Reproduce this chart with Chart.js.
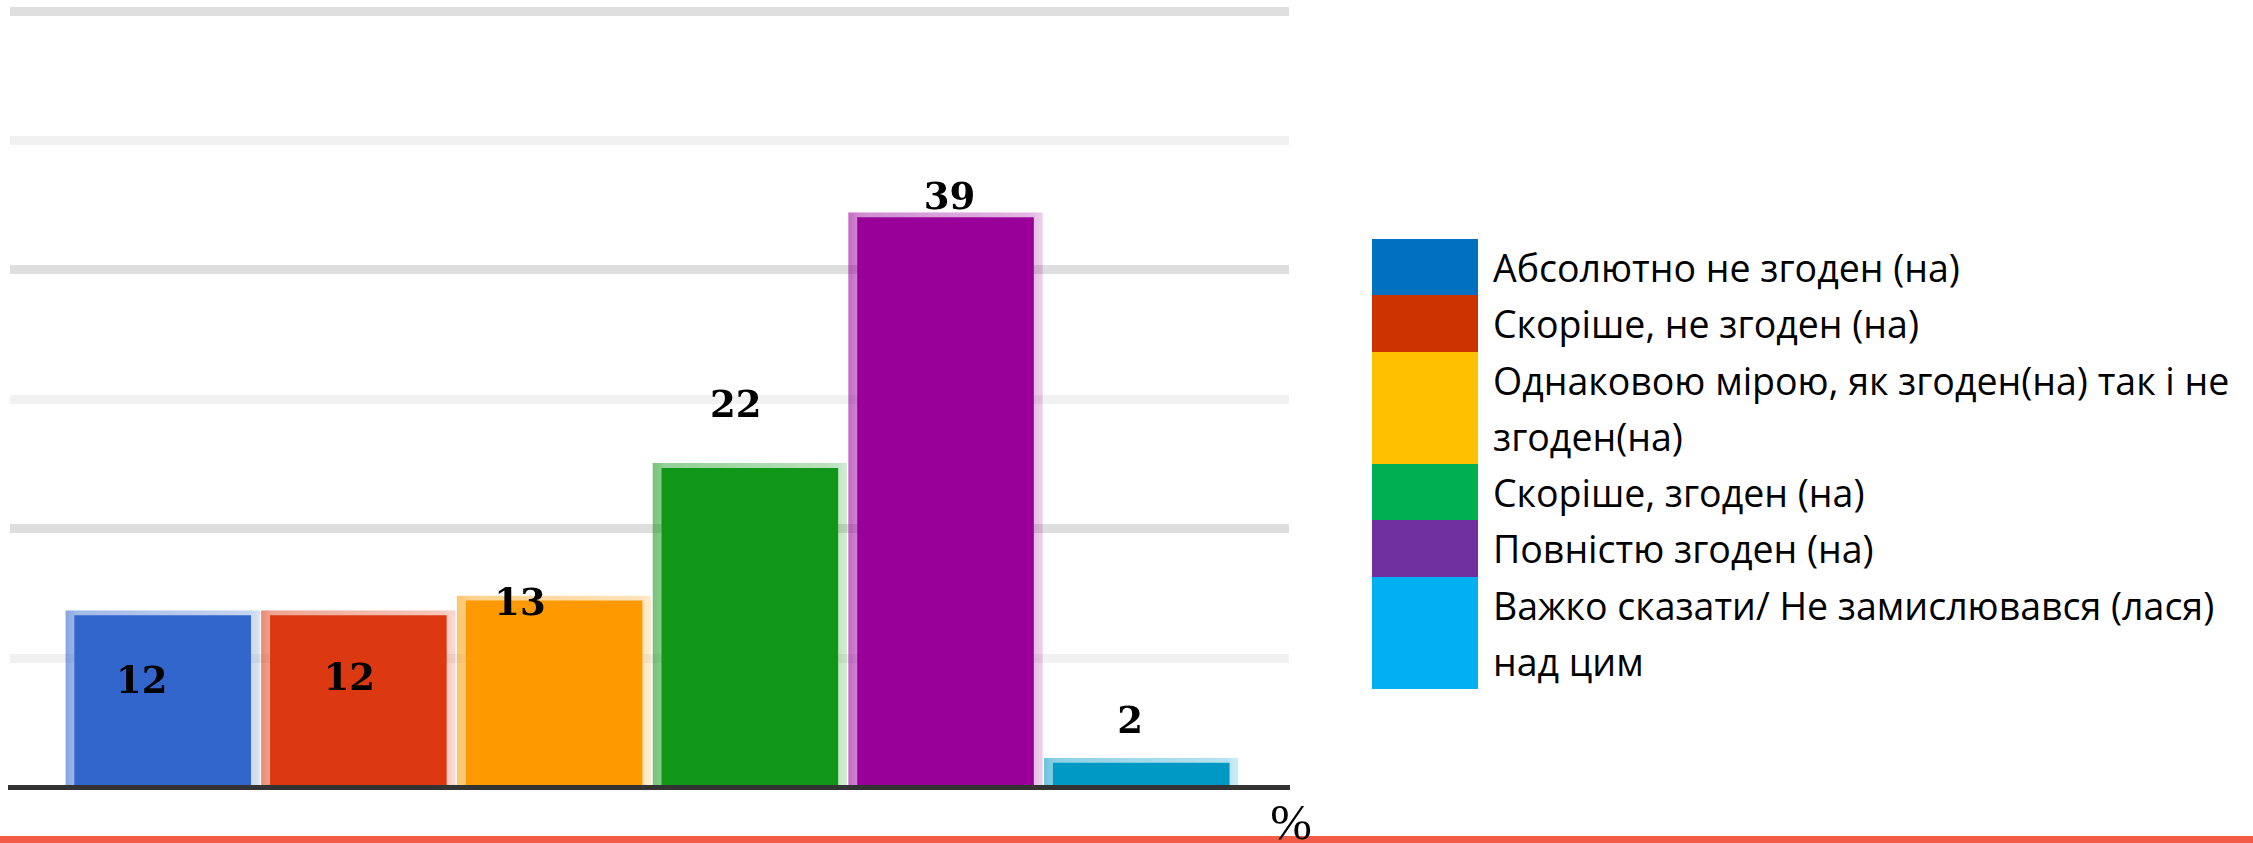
<!DOCTYPE html>
<html>
<head>
<meta charset="utf-8">
<script src="https://cdn.jsdelivr.net/npm/chart.js@4.4.1/dist/chart.umd.min.js"></script>
<style>
  html, body { margin: 0; padding: 0; background: #ffffff; width: 2253px; height: 843px; overflow: hidden; position: relative; }
  #redline { position: absolute; left: 0; top: 836px; width: 2253px; height: 7px; background: #f25b47; }
  #chartBox { position: absolute; left: 0; top: 0; width: 1340px; height: 843px; }
  #legend { position: absolute; left: 1372px; top: 239px; width: 870px; font-family: "Open Sans", sans-serif; font-size: 37.5px; line-height: 56.25px; color: #000; }
  .row { display: flex; align-items: stretch; }
  .sw { width: 106px; flex: none; }
  .tx { margin-left: 15px; width: 765px; position: relative; top: 1px; }
</style>
</head>
<body>
<div id="redline"></div>
<div id="chartBox"><canvas id="c"></canvas></div>
<div id="legend"></div>
<script>
// ---- data ----
const categories = [
  "Абсолютно не згоден (на)",
  "Скоріше, не згоден (на)",
  "Однаковою мірою, як згоден(на) так і не згоден(на)",
  "Скоріше, згоден (на)",
  "Повністю згоден (на)",
  "Важко сказати/ Не замислювався (лася) над цим"
];
const values = [12, 12, 13, 22, 39, 2];
const valueLabels = ["12", "12", "13", "22", "39", "2"];
const unitLabel = "%";

// ---- styles ----
const barColors = ["#3366cc", "#dc3912", "#ff9900", "#109618", "#990099", "#0099c6"];
const legendColors = ["#0070c0", "#cc3300", "#ffc000", "#00b050", "#7030a0", "#00b0f0"];
const labelOffsets = [[-21, 82], [-9, 79], [-34, 19], [-14, -46], [4, -4], [-11, -25]];
const BAR_THICKNESS = 194;
const Y_MAX = 52.68;
const GRID_COUNT = 6;
const X_MIN = -0.78;
const X_MAX = 5.755;

function rgba(hex, a) {
  const n = parseInt(hex.slice(1), 16);
  return `rgba(${(n >> 16) & 255},${(n >> 8) & 255},${n & 255},${a})`;
}

// legend (HTML)
const legendEl = document.getElementById('legend');
categories.forEach((name, i) => {
  const row = document.createElement('div');
  row.className = 'row';
  const sw = document.createElement('div');
  sw.className = 'sw';
  sw.style.background = legendColors[i];
  const tx = document.createElement('div');
  tx.className = 'tx';
  tx.textContent = name;
  row.appendChild(sw);
  row.appendChild(tx);
  legendEl.appendChild(row);
});

// translucent edge: darker on the left, lighter to the right
function edgeColor(context) {
  const i = context.dataIndex;
  const c = barColors[i] || barColors[0];
  const chart = context.chart;
  const xs = chart.scales && chart.scales.x;
  if (!xs || !isFinite(xs.left) || xs.width <= 0) return rgba(c, 0.42);
  const cx = xs.getPixelForValue(i);
  if (!isFinite(cx)) return rgba(c, 0.42);
  const g = chart.ctx.createLinearGradient(cx - BAR_THICKNESS / 2, 0, cx + BAR_THICKNESS / 2, 0);
  g.addColorStop(0, rgba(c, 0.58));
  g.addColorStop(0.06, rgba(c, 0.45));
  g.addColorStop(0.94, rgba(c, 0.28));
  g.addColorStop(1, rgba(c, 0.18));
  return g;
}

const valueLabelPlugin = {
  id: 'valueLabels',
  afterDatasetsDraw(chart) {
    const ctx = chart.ctx;
    const meta = chart.getDatasetMeta(0);
    ctx.save();
    ctx.font = 'bold 37px "DejaVu Serif"';
    ctx.fillStyle = '#000';
    ctx.textAlign = 'center';
    ctx.textBaseline = 'alphabetic';
    meta.data.forEach((bar, i) => {
      ctx.fillText(valueLabels[i], bar.x + labelOffsets[i][0], bar.y + labelOffsets[i][1]);
    });
    ctx.restore();
  }
};

const unitPlugin = {
  id: 'unitLabel',
  afterDraw(chart) {
    const ctx = chart.ctx;
    const a = chart.chartArea;
    ctx.save();
    ctx.font = '50px "Liberation Serif"';
    ctx.fillStyle = '#000';
    ctx.textAlign = 'center';
    ctx.textBaseline = 'alphabetic';
    ctx.fillText(unitLabel, a.right + 2, a.bottom + 51);
    ctx.restore();
  }
};

new Chart(document.getElementById('c'), {
  type: 'bar',
  data: {
    datasets: [{
      data: values.map((v, i) => ({ x: i, y: v })),
      backgroundColor: barColors,
      borderColor: edgeColor,
      borderWidth: { left: 9, right: 9, top: 5, bottom: 0 },
      borderSkipped: false,
      barThickness: BAR_THICKNESS
    }]
  },
  options: {
    responsive: true,
    maintainAspectRatio: false,
    animation: false,
    devicePixelRatio: 1,
    layout: { padding: { left: 10, right: 51, top: 11, bottom: 55.5 } },
    plugins: { legend: { display: false }, tooltip: { enabled: false } },
    scales: {
      x: {
        type: 'linear',
        min: X_MIN,
        max: X_MAX,
        offset: false,
        ticks: { display: false },
        grid: { display: false, drawTicks: false, offset: false },
        border: { display: true, color: '#333333', width: 5, z: 1 }
      },
      y: {
        min: 0,
        max: Y_MAX,
        afterBuildTicks: (scale) => {
          scale.ticks = Array.from({ length: GRID_COUNT + 1 }, (_, i) => ({ value: i * Y_MAX / GRID_COUNT }));
        },
        ticks: { display: false },
        grid: {
          drawTicks: false,
          lineWidth: (ctx) => (ctx.index === 0 ? 0 : 9),
          color: (ctx) => (ctx.index % 2 === 0 ? '#dedede' : '#f1f1f1')
        },
        border: { display: false }
      }
    }
  },
  plugins: [valueLabelPlugin, unitPlugin]
});
</script>
</body>
</html>
